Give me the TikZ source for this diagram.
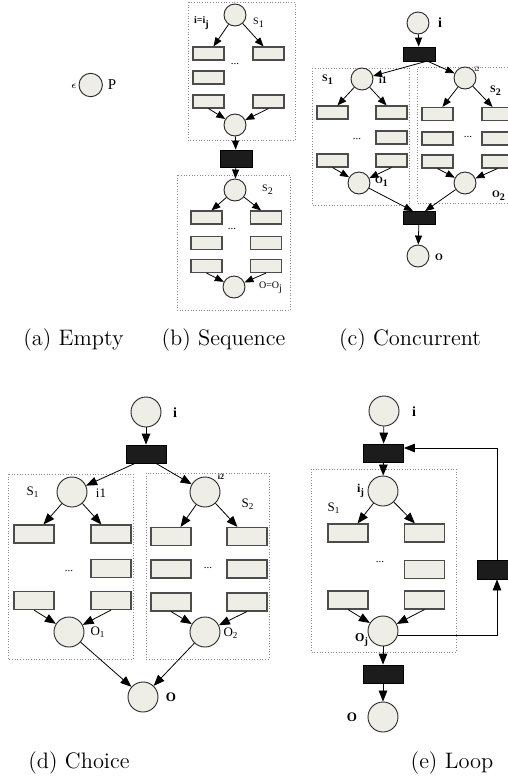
\documentclass[tikz,border=0pt]{standalone}
\usepackage{fontspec}
\newfontfamily\lblfont{Liberation Serif}
\usetikzlibrary{arrows.meta,calc}
\definecolor{pfill}{HTML}{EEEEE6}
\definecolor{tfill}{HTML}{1C1C1C}
\begin{document}
\begin{tikzpicture}[x=0.5pt,y=-0.5pt,
  place/.style={circle,draw=black!85,fill=pfill,line width=0.45pt,minimum size=11pt,inner sep=0pt},
  bigplace/.style={place,minimum size=15pt},
  task/.style={rectangle,draw=black!70,fill=pfill,line width=0.55pt,minimum width=15.5pt,minimum height=6.5pt,inner sep=0pt},
  bigtask/.style={task,minimum width=20pt,minimum height=9pt},
  trans/.style={rectangle,draw=black,fill=tfill,line width=0.4pt,minimum width=16pt,minimum height=7.5pt,inner sep=0pt},
  bigtrans/.style={trans,minimum width=20pt,minimum height=9pt},
  group/.style={draw=black!45,densely dotted,line width=0.35pt},
  arr/.style={-{Triangle[length=4.5pt,width=3.5pt]},line width=0.4pt},
  bigarr/.style={-{Triangle[length=5.5pt,width=4.3pt]},line width=0.4pt},
  lbl/.style={font=\lblfont\fontsize{5}{6}\selectfont,inner sep=0pt},
  lblb/.style={font=\lblfont\bfseries\fontsize{5}{6}\selectfont,inner sep=0pt},
  lblbig/.style={font=\lblfont\fontsize{6.5}{7}\selectfont,inner sep=0pt},
  lblbigb/.style={font=\lblfont\bfseries\fontsize{7}{8}\selectfont,inner sep=0pt},
  dots/.style={font=\lblfont\fontsize{5.5}{6}\selectfont,inner sep=0pt},
  captext/.style={font=\fontsize{11.2}{13}\selectfont,inner sep=0pt,anchor=base}
]
\useasboundingbox (0,0) rectangle (508,778);
\clip (0,0) rectangle (508,778);

% ---------------- (a) Empty
\node[place,minimum size=11.7pt] (pa) at (90.7,85) {};
\node[lbl] (la1) at (74,86) {$\epsilon$};
\node[lbl,font=\lblfont\fontsize{7.5}{8}\selectfont] (la2) at (112,85) {P};
\node[captext] (capa) at (73.5,345) {(a) Empty};

% ---------------- (b) Sequence
\draw[group] (188,2) rectangle (295,140);
\draw[group] (177,175) rectangle (290,310);
\node[place] (pb1) at (235,15) {};
\node[lblb] (lb1) at (202,23) {i=i\textsubscript{j}};
\node[lbl] (lb2) at (259,23) {S\textsubscript{1}};
\node[task] (b11) at (208.5,53.5) {};
\node[task] (b12) at (268.5,53.5) {};
\node[task] (b21) at (208.5,77.5) {};
\node[task] (b31) at (208.5,101.5) {};
\node[task] (b32) at (268.5,101.5) {};
\node[dots] (bd1) at (235,64) {...};
\node[place] (pb2) at (235,125) {};
\node[trans,minimum height=8.5pt] (tb) at (236,158.5) {};
\node[place] (pb3) at (235,190) {};
\node[lbl] (lb3) at (268,190) {S\textsubscript{2}};
\node[task] (c11) at (206.5,217.5) {};
\node[task] (c12) at (266,217.5) {};
\node[task] (c21) at (206.5,243) {};
\node[task] (c22) at (266,243) {};
\node[task] (c31) at (206.5,266) {};
\node[task] (c32) at (266,266) {};
\node[dots] (bd2) at (232,229) {...};
\node[place] (pb4) at (234,287) {};
\node[lbl] (lb4) at (271,288) {O=O\textsubscript{j}};
\node[captext] (capb) at (223.5,345) {(b) Sequence};
\draw[arr] (pb1) -- (b11.55);
\draw[arr] (pb1) -- (b12.125);
\draw[arr] (b31.south) -- (pb2);
\draw[arr] (b32.south) -- (pb2);
\draw[arr] (pb2) -- (tb);
\draw[arr] (tb) -- (pb3);
\draw[arr] (pb3) -- (c11.55);
\draw[arr] (pb3) -- (c12.125);
\draw[arr] (c31.south) -- (pb4);
\draw[arr] (c32.south) -- (pb4);

% ---------------- (c) Concurrent
\draw[group] (312,68) rectangle (409,205);
\draw[group] (510,67) -- (417,67) -- (417,203) -- (510,203);
\node[place] (pc0) at (418,23) {};
\node[lblb,font=\lblfont\bfseries\fontsize{7}{8}\selectfont] (lc0) at (440,23) {i};
\node[trans,minimum height=7pt] (tc1) at (419,54) {};
\node[place] (pc1) at (362,79) {};
\node[lblb] (lc1) at (328,80) {S\textsubscript{1}};
\node[lblb] (lc2) at (383,80) {i1};
\node[place] (pc2) at (465,78) {};
\node[lbl,font=\lblfont\fontsize{3.5}{4}\selectfont] (lc3) at (477,69) {i2};
\node[lblb] (lc4) at (496,91) {S\textsubscript{2}};
\node[task] (d11) at (332.5,112.5) {};
\node[task] (d12) at (391.5,112.5) {};
\node[task] (d22) at (391.5,137.5) {};
\node[task] (d31) at (332.5,160.5) {};
\node[task] (d32) at (391.5,160.5) {};
\node[dots] (cd1) at (357,139) {...};
\node[task] (e11) at (437.5,114) {};
\node[task] (e12) at (497.5,114) {};
\node[task] (e21) at (437.5,138.5) {};
\node[task] (e22) at (497.5,138.5) {};
\node[task] (e31) at (437.5,161.5) {};
\node[task] (e32) at (497.5,161.5) {};
\node[dots] (cd2) at (468,137) {...};
\node[place] (pc3) at (359,183) {};
\node[lblb] (lc5) at (382,182) {O\textsubscript{1}};
\node[place] (pc4) at (465,183) {};
\node[lblb] (lc6) at (499,196) {O\textsubscript{2}};
\node[trans,minimum height=6.5pt] (tc2) at (419,218) {};
\node[place] (pc5) at (418,256) {};
\node[lblb] (lc7) at (439,257) {O};
\node[captext] (capc) at (410,345) {(c) Concurrent};
\draw[arr] (pc0) -- (tc1);
\draw[arr] ($(tc1.south)+(7,0)$) -- (pc1);
\draw[arr] ($(tc1.south)+(9,0)$) -- (pc2);
\draw[arr] (pc1) -- (d11.55);
\draw[arr] (pc1) -- (d12.125);
\draw[arr] (d31.south) -- (pc3);
\draw[arr] (d32.south) -- (pc3);
\draw[arr] (pc2) -- (e11.55);
\draw[arr] (pc2) -- (e12.125);
\draw[arr] (e31.south) -- (pc4);
\draw[arr] (e32.south) -- (pc4);
\draw[arr] (pc3) -- ($(tc2.north)+(-6,0)$);
\draw[arr] (pc4) -- ($(tc2.north)+(6,0)$);
\draw[arr] (tc2) -- (pc5);

% ---------------- (d) Choice
\draw[group] (8,474) rectangle (133,659);
\draw[group] (146,473) rectangle (269,659);
\node[bigplace] (pd0) at (146,412) {};
\node[lblbigb] (ld0) at (175,413) {i};
\node[bigtrans] (td1) at (146,454) {};
\node[bigplace] (pd1) at (72,492) {};
\node[lblbig] (ld1) at (33,492) {S\textsubscript{1}};
\node[lblbig] (ld2) at (101,493) {i1};
\node[bigplace] (pd2) at (205,492) {};
\node[lbl,font=\lblfont\bfseries\fontsize{4}{5}\selectfont] (ld3) at (221,477) {i2};
\node[lblbig] (ld4) at (248,504) {S\textsubscript{2}};
\node[bigtask] (f11) at (34,534) {};
\node[bigtask] (f12) at (111,534) {};
\node[bigtask] (f22) at (111,568.5) {};
\node[bigtask] (f31) at (34,600.5) {};
\node[bigtask] (f32) at (111,600.5) {};
\node[dots] (dd1) at (69,571) {...};
\node[bigtask] (g11) at (171,536.5) {};
\node[bigtask] (g12) at (247,536.5) {};
\node[bigtask] (g21) at (171,569) {};
\node[bigtask] (g22) at (247,569) {};
\node[bigtask] (g31) at (171,602) {};
\node[bigtask] (g32) at (247,602) {};
\node[dots] (dd2) at (208,568) {...};
\node[bigplace] (pd3) at (69,632) {};
\node[lblbig] (ld5) at (98,632) {O\textsubscript{1}};
\node[bigplace] (pd4) at (205,632) {};
\node[lblbig] (ld6) at (231,633) {O\textsubscript{2}};
\node[bigplace] (pd5) at (143,697) {};
\node[lblbigb,font=\lblfont\bfseries\fontsize{6.5}{7}\selectfont] (ld7) at (171,697) {O};
\node[captext] (capd) at (79,768) {(d) Choice};
\draw[bigarr] (pd0) -- (td1);
\draw[bigarr] ($(td1.south)+(-11,0)$) -- (pd1);
\draw[bigarr] ($(td1.south)+(10,0)$) -- (pd2);
\draw[bigarr] (pd1) -- (f11.45);
\draw[bigarr] (pd1) -- (f12.135);
\draw[bigarr] (f31.south) -- (pd3);
\draw[bigarr] (f32.south) -- (pd3);
\draw[bigarr] (pd2) -- (g11.45);
\draw[bigarr] (pd2) -- (g12.135);
\draw[bigarr] (g31.south) -- (pd4);
\draw[bigarr] (g32.south) -- (pd4);
\draw[bigarr] (pd3) -- (pd5);
\draw[bigarr] (pd4) -- (pd5);

% ---------------- (e) Loop
\draw[group] (311,469) rectangle (456,652);
\node[bigplace] (pe0) at (384,411) {};
\node[lblbigb] (le0) at (414,412) {i};
\node[bigtrans] (te1) at (383.5,453) {};
\node[bigplace] (pe1) at (383,491) {};
\node[lblbigb,font=\lblfont\bfseries\fontsize{6}{7}\selectfont] (le1) at (361,491) {i\textsubscript{j}};
\node[lblbig] (le2) at (334,508) {S\textsubscript{1}};
\node[bigtask] (h11) at (348,533) {};
\node[bigtask] (h12) at (424.5,533) {};
\node[bigtask] (h22) at (424.5,569.5) {};
\node[bigtask] (h31) at (348,600) {};
\node[bigtask] (h32) at (424.5,600) {};
\node[dots] (ed1) at (380,562) {...};
\node[bigplace] (pe2) at (383,631) {};
\node[lblbigb,font=\lblfont\bfseries\fontsize{6}{7}\selectfont] (le3) at (362,640) {O\textsubscript{j}};
\node[bigtrans] (te2) at (383,674) {};
\node[bigplace] (pe3) at (383,717) {};
\node[lblbigb,font=\lblfont\bfseries\fontsize{6.5}{7}\selectfont] (le4) at (352,717) {O};
\node[bigtrans,minimum height=9.5pt] (te3) at (497,569.5) {};
\node[captext] (cape) at (452,768) {(e) Loop};
\draw[bigarr] (pe0) -- (te1);
\draw[bigarr] (te1) -- (pe1);
\draw[bigarr] (pe1) -- (h11.45);
\draw[bigarr] (pe1) -- (h12.135);
\draw[bigarr] (h31.south) -- (pe2);
\draw[bigarr] (h32.south) -- (pe2);
\draw[bigarr] (pe2) -- (te2);
\draw[bigarr] (te2) -- (pe3);
\draw[bigarr] (pe2.-15) -| (te3.south);
\draw[bigarr] (te3.north) |- ($(te1.east)+(0,-5)$);
\end{tikzpicture}
\end{document}
